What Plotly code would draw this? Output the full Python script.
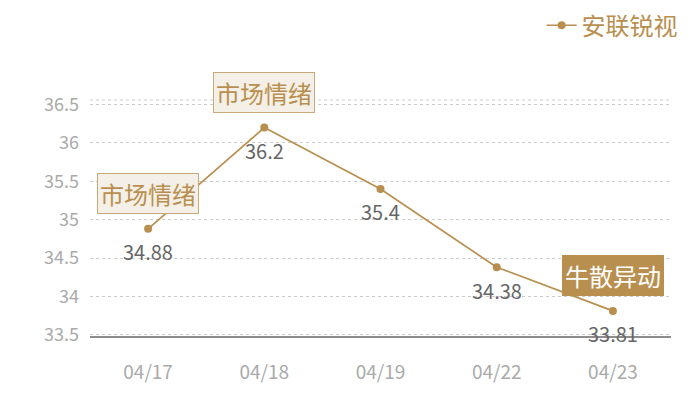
import plotly.graph_objects as go

dates = ["04/17", "04/18", "04/19", "04/22", "04/23"]
prices = [34.88, 36.2, 35.4, 34.38, 33.81]
series_name = "安联锐视"

# annotation boxes: (index, text, filled)
tags = [(0, "市场情绪", False), (1, "市场情绪", False), (4, "牛散异动", True)]
y_ticks = [33.5, 34, 34.5, 35, 35.5, 36, 36.5]

gold = "#b88f4f"
font = "Noto Sans CJK SC"

fig = go.Figure()
fig.add_trace(go.Scatter(
    x=dates, y=prices, name=series_name,
    mode="lines+markers",
    line=dict(color=gold, width=1.7),
    marker=dict(color=gold, size=8),
))

# value labels under the points
for d, v in zip(dates, prices):
    fig.add_annotation(x=d, y=v, yshift=-23, text=f"{v:g}", showarrow=False,
                       font=dict(color="#666666", size=20, family=font))

for i, label, filled in tags:
    fig.add_annotation(
        x=dates[i], y=prices[i], yshift=35,
        text=label, showarrow=False,
        font=dict(size=24, family=font, color="#ffffff" if filled else gold),
        bgcolor=gold if filled else "#f4efe7",
        bordercolor=gold if filled else "#c9a97a",
        borderwidth=1, borderpad=2,
    )

# dotted line along the top of the plot area
fig.add_shape(type="line", xref="paper", yref="paper", x0=0, x1=1, y0=1, y1=1,
              line=dict(color="#cccccc", width=1, dash="dot"))

fig.update_xaxes(
    type="category", range=[-0.5, 4.5],
    showgrid=False, showline=False, zeroline=False,
    tickfont=dict(color="#aaaaaa", size=19, family=font),
    ticks="", ticklabelstandoff=22,
)
fig.update_yaxes(
    range=[33.47, 36.56], tickvals=y_ticks,
    ticktext=[f"{v:g}" for v in y_ticks],
    showgrid=True, gridcolor="#cccccc", griddash="dot", gridwidth=1,
    zeroline=False, showline=False,
    tickfont=dict(color="#aaaaaa", size=18, family=font),
    ticks="", ticklabelstandoff=10,
)
# solid bottom axis line
fig.add_shape(type="line", xref="paper", yref="paper", x0=0, x1=1, y0=0, y1=0,
              line=dict(color="#1a1a1a", width=1))

# page body has an 8px margin, so the figure is a bit smaller than the window
fig.update_layout(
    width=692, height=392,
    margin=dict(l=82, r=29, t=92, b=63),
    plot_bgcolor="white", paper_bgcolor="white",
    font=dict(family=font),
    showlegend=True,
    legend=dict(xref="paper", yref="container", x=1.02, y=0.955,
                xanchor="right", yanchor="middle",
                font=dict(color=gold, size=24, family=font),
                itemwidth=30, bgcolor="rgba(0,0,0,0)"),
)

fig.write_html("out.html")
